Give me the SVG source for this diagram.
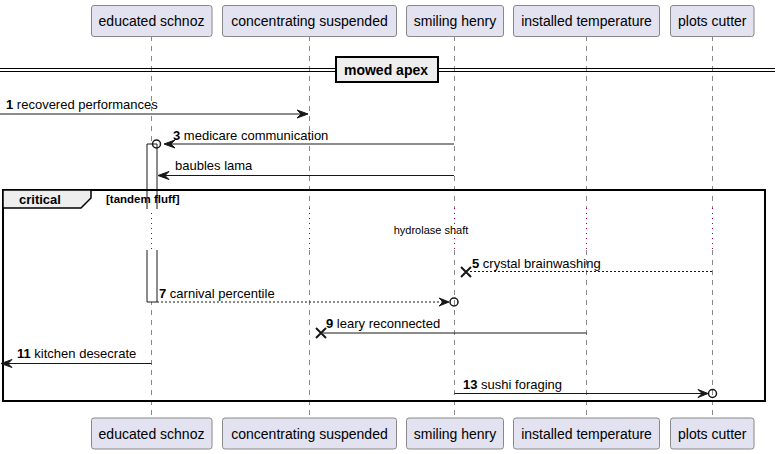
<svg xmlns="http://www.w3.org/2000/svg" width="780" height="454" viewBox="0 0 780 454">
<style>
.pbox{fill:#E2E2F0;stroke:#888888;stroke-width:1}
.ptxt{font-family:"Liberation Sans",Arial,sans-serif;font-size:14px;fill:#000;text-anchor:middle}
.life{stroke:#888888;stroke-width:1;stroke-dasharray:5,5;fill:none}
.delay{stroke:#A80036;stroke-width:1;stroke-dasharray:1,4;fill:none}
.msg{stroke:#181818;stroke-width:1;fill:none}
.dash{stroke-dasharray:2,2}
.lbl{font-family:"Liberation Sans",Arial,sans-serif;font-size:13px;fill:#000}
.num{font-weight:bold}
.head{fill:#181818;stroke:#181818;stroke-width:1}
.circ{fill:none;stroke:#181818;stroke-width:1.5}
.cross{stroke:#181818;stroke-width:2}
</style>
<rect width="780" height="454" fill="#FFFFFF"/>
<g id="lifelines">
<path class="life" d="M151.5,36V208M151.5,250V418"/>
<path class="life" d="M309.5,36V208M309.5,250V418"/>
<path class="life" d="M454.5,36V208M454.5,250V418"/>
<path class="life" d="M586.5,36V208M586.5,250V418"/>
<path class="life" d="M712.5,36V208M712.5,250V418"/>
<path class="delay" d="M151.5,208V250M309.5,208V250M454.5,208V250M586.5,208V250M712.5,208V250"/>
</g>
<g id="activation">
<rect x="147" y="144" width="10" height="65" fill="#FFFFFF" stroke="none"/>
<path d="M147,209V144H157V209" fill="none" stroke="#181818" stroke-width="1"/>
<rect x="147" y="250" width="10" height="52" fill="#FFFFFF" stroke="none"/>
<path d="M147,250V302H157V250" fill="none" stroke="#181818" stroke-width="1"/>
</g>
<g id="divider">
<line x1="0" y1="68.5" x2="775" y2="68.5" stroke="#000" stroke-width="1.2"/>
<line x1="0" y1="71.5" x2="775" y2="71.5" stroke="#000" stroke-width="1.2"/>
<rect x="336" y="57" width="102" height="25" fill="#EEEEEE" stroke="#000" stroke-width="2"/>
<text x="386" y="75" class="num" text-anchor="middle" font-family="Liberation Sans,Arial,sans-serif" font-size="14">mowed apex</text>
</g>
<g id="frame">
<rect x="3" y="190" width="762" height="211" fill="none" stroke="#000" stroke-width="2"/>
<path d="M3,190H91V198L81,208H3Z" fill="#EEEEEE" stroke="#000" stroke-width="1.5"/>
<text x="19" y="204" class="lbl num">critical</text>
<text x="106" y="203" font-family="Liberation Sans,Arial,sans-serif" font-size="11.5" font-weight="bold">[tandem fluff]</text>
<text x="431" y="234" text-anchor="middle" font-family="Liberation Sans,Arial,sans-serif" font-size="11">hydrolase shaft</text>
</g>
<g id="connectors">
<line class="msg" x1="0" y1="114" x2="307" y2="114"/>
<polygon class="head" points="297,110 308,114 297,118 301,114"/>
<text x="6" y="109" class="lbl"><tspan class="num">1</tspan> recovered performances</text>

<line class="msg" x1="454" y1="144" x2="165" y2="144"/>
<polygon class="head" points="175,140 164,144 175,148 171,144"/>
<circle class="circ" cx="156.5" cy="144" r="4"/>
<text x="173" y="140" class="lbl"><tspan class="num">3</tspan> medicare communication</text>

<line class="msg" x1="454" y1="175.5" x2="159" y2="175.5"/>
<polygon class="head" points="169,171.5 158,175.5 169,179.5 165,175.5"/>
<text x="175" y="170" class="lbl">baubles lama</text>

<line class="msg dash" x1="712" y1="271.5" x2="468" y2="271.5"/>
<path class="cross" d="M461,267L471,277M461,277L471,267"/>
<text x="472" y="268" class="lbl"><tspan class="num">5</tspan> crystal brainwashing</text>

<line class="msg dash" x1="157" y1="302" x2="448" y2="302"/>
<polygon class="head" points="439,298 449,302 439,306 443,302"/>
<circle class="circ" cx="454" cy="302" r="4"/>
<text x="159" y="298" class="lbl"><tspan class="num">7</tspan> carnival percentile</text>

<line class="msg" x1="586.5" y1="333" x2="323" y2="333"/>
<path class="cross" d="M316,328L326,338M316,338L326,328"/>
<text x="326" y="328" class="lbl"><tspan class="num">9</tspan> leary reconnected</text>

<line class="msg" x1="151.5" y1="363.5" x2="2" y2="363.5"/>
<polygon class="head" points="12,359.5 1,363.5 12,367.5 8,363.5"/>
<text x="17" y="358" class="lbl"><tspan class="num">11</tspan> kitchen desecrate</text>

<line class="msg" x1="454.5" y1="393.5" x2="707" y2="393.5"/>
<polygon class="head" points="698,389.5 708,393.5 698,397.5 702,393.5"/>
<circle class="circ" cx="712.5" cy="393.5" r="4"/>
<text x="463" y="389" class="lbl"><tspan class="num">13</tspan> sushi foraging</text>
</g>
<g id="p-educated-schnoz">
<rect class="pbox" x="91.5" y="5.5" width="120.5" height="31" rx="2.5"/>
<text class="ptxt" x="151.5" y="26">educated schnoz</text>
<rect class="pbox" x="91.5" y="418" width="120.5" height="31" rx="2.5"/>
<text class="ptxt" x="151.5" y="439">educated schnoz</text>
</g>
<g id="p-concentrating-suspended">
<rect class="pbox" x="222.5" y="5.5" width="174" height="31" rx="2.5"/>
<text class="ptxt" x="309.5" y="26">concentrating suspended</text>
<rect class="pbox" x="222.5" y="418" width="174" height="31" rx="2.5"/>
<text class="ptxt" x="309.5" y="439">concentrating suspended</text>
</g>
<g id="p-smiling-henry">
<rect class="pbox" x="406.5" y="5.5" width="97" height="31" rx="2.5"/>
<text class="ptxt" x="455" y="26">smiling henry</text>
<rect class="pbox" x="406.5" y="418" width="97" height="31" rx="2.5"/>
<text class="ptxt" x="455" y="439">smiling henry</text>
</g>
<g id="p-installed-temperature">
<rect class="pbox" x="513.5" y="5.5" width="146" height="31" rx="2.5"/>
<text class="ptxt" x="586.5" y="26">installed temperature</text>
<rect class="pbox" x="513.5" y="418" width="146" height="31" rx="2.5"/>
<text class="ptxt" x="586.5" y="439">installed temperature</text>
</g>
<g id="p-plots-cutter">
<rect class="pbox" x="670.5" y="5.5" width="83.5" height="31" rx="2.5"/>
<text class="ptxt" x="712.3" y="26">plots cutter</text>
<rect class="pbox" x="670.5" y="418" width="83.5" height="31" rx="2.5"/>
<text class="ptxt" x="712.3" y="439">plots cutter</text>
</g>
</svg>
